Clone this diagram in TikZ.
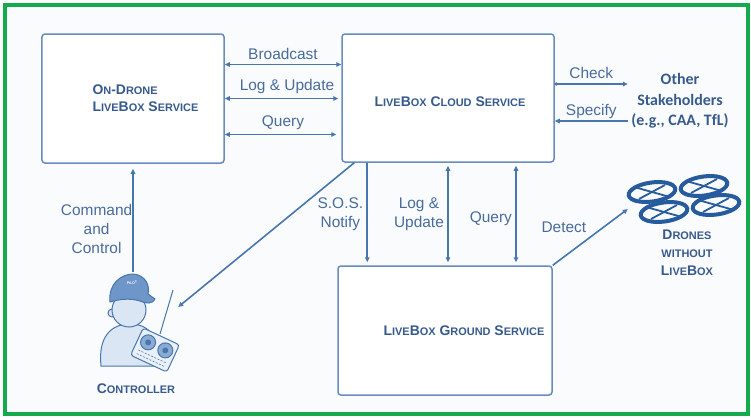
\documentclass[tikz,border=0pt]{standalone}
\usepackage{fontspec}
\setmainfont{Liberation Sans}
\newfontfamily\calib{Carlito}
\usetikzlibrary{arrows.meta,calc}

\definecolor{lnblue}{RGB}{72,118,175}
\definecolor{boxblue}{RGB}{105,140,190}
\definecolor{txtblue}{RGB}{72,108,158}
\definecolor{ttlblue}{RGB}{55,90,142}
\definecolor{rotorblue}{RGB}{38,92,158}
\definecolor{frame}{RGB}{22,170,78}
\definecolor{paper}{RGB}{250,251,253}
\definecolor{skin}{RGB}{218,230,244}
\definecolor{capblue}{RGB}{110,150,200}

% fake small caps: lower part of a word in a smaller size
\newcommand\smc[1]{{\fontsize{11}{12}\selectfont #1}}

\tikzset{
  svc/.style={draw=boxblue, line width=1.5bp, rounded corners=3bp, fill=white},
  ttl/.style={font=\bfseries\fontsize{14}{17}\selectfont, text=ttlblue},
  lbl/.style={font=\fontsize{15.5}{19}\selectfont, text=txtblue, align=center},
  link/.style={draw=lnblue, line width=1.6bp, -{Triangle[length=5bp,width=4.5bp]}},
  both/.style={link, {Triangle[length=5bp,width=4.5bp]}-{Triangle[length=5bp,width=4.5bp]}},
  rotor/.style={draw=rotorblue, line width=4bp, fill=paper},
  icon/.style={draw=lnblue, line width=1bp},
}

\begin{document}
\begin{tikzpicture}[x=1bp,y=-1bp]
\fill[paper] (0,0) rectangle (751,417);
\draw[frame, line width=4bp] (5,5) rectangle (748,414);

% the three services
\node[svc, minimum width=182bp, minimum height=129bp] (drone) at (133,98.5) {};
\node[svc, minimum width=212bp, minimum height=128bp] (cloud) at (448,98) {};
\node[svc, minimum width=214bp, minimum height=129bp] (ground) at (445,330.5) {};
\node[ttl, align=left, anchor=west] (dronet) at (89,98) {O\smc{N}-D\smc{RONE}\\L\smc{IVE}B\smc{OX} S\smc{ERVICE}};
\node[ttl] (cloudt) at ([xshift=2bp,yshift=-4bp]cloud.center) {L\smc{IVE}B\smc{OX} C\smc{LOUD} S\smc{ERVICE}};
\node[ttl] (groundt) at ([xshift=19bp]ground.center) {L\smc{IVE}B\smc{OX} G\smc{ROUND} S\smc{ERVICE}};

% outside parties
\node[font=\calib\bfseries\fontsize{16}{20.5}\selectfont, text=ttlblue, align=center] (stake) at (680,101) {Other\\Stakeholders\\(e.g., CAA, TfL)};
\node[minimum width=90bp, minimum height=70bp] (pilot) at (133,307) {};
\node[ttl] (pilott) at (136,389) {C\smc{ONTROLLER}};
\node[minimum width=114bp, minimum height=50bp] (uav) at (685,198) {};
\node[ttl, align=center, font=\bfseries\fontsize{14}{18}\selectfont] (uavt) at (687,253) {D\smc{RONES}\\\smc{WITHOUT}\\L\smc{IVE}B\smc{OX}};

% drone <-> cloud
\draw[both] ([yshift=34bp]drone.east) -- ([yshift=34bp]drone.east -| cloud.west)
  node[lbl, midway, above=1bp] {Broadcast};
\draw[both, shorten >=3bp] ([yshift=0bp]drone.east) -- ([yshift=0bp]drone.east -| cloud.west)
  node[lbl, midway, above=1bp, xshift=4bp] {Log \& Update};
\draw[both, shorten >=5bp] ([yshift=-36bp]drone.east) -- ([yshift=-36bp]drone.east -| cloud.west)
  node[lbl, midway, above=1bp] {Query};

% cloud <-> stakeholders
\draw[link, {Circle[length=3bp]}-{Triangle[length=5bp,width=4.5bp]}] ([yshift=14bp]cloud.east) -- ([yshift=14bp]cloud.east -| stake.west)
  node[lbl, midway, above=1bp] {Check};
\draw[link] ([yshift=-23bp]cloud.east -| stake.west) -- ([yshift=-23bp]cloud.east)
  node[lbl, midway, above=-2bp] {Specify};

% cloud <-> ground
\draw[link, shorten >=3bp] ([xshift=26bp]cloud.south west) -- ([xshift=26bp]cloud.south west |- ground.north)
  node[lbl, midway, left] {S.O.S.\\Notify};
\draw[both, shorten <=3bp, shorten >=3bp] (cloud.south) -- (cloud.south |- ground.north)
  node[lbl, midway, left] {Log \&\\Update};
\draw[both, shorten <=3bp, shorten >=3bp] ([xshift=68bp]cloud.south) -- ([xshift=68bp]cloud.south |- ground.north)
  node[lbl, pos=0.55, left] {Query};

% controller and drones
\draw[link] ([xshift=13bp]cloud.south west) -- (pilot.east);
\draw[link, shorten >=5bp] (pilot.north) -- (drone.south)
  node[lbl, pos=0.4, left, inner sep=0bp] {Command\\and\\Control};
\draw[link] (ground.north east) -- ([yshift=-11bp]uav.west)
  node[lbl, midway, above left] {Detect};

% pilot with remote
\draw[icon, fill=skin] (101,366) .. controls (98,338) and (110,324) .. (130,324)
  .. controls (150,324) and (160,338) .. (158,366) -- cycle;
\draw[icon, fill=skin] (112,313) circle (4);
\draw[icon, fill=skin] (129,310) circle (17);
\draw[icon, fill=capblue] (110,302) .. controls (108,283) and (122,274) .. (133,274)
  .. controls (146,275) and (150,286) .. (148,294) -- (155,299)
  .. controls (153,304) and (146,304) .. (140,301)
  .. controls (130,298) and (120,299) .. (110,302) -- cycle;
\node[text=white, font=\bfseries\fontsize{3.5}{4}\selectfont, rotate=8] at (132,283) {PILOT};
\draw[icon] (160,334) -- (173,290);
\begin{scope}[shift={(155,350)}, rotate=-25]
  \draw[icon, fill=skin!60!white, rounded corners=3bp] (-20,-15) rectangle (20,15);
  \foreach \jx in {-9.5,9.5} {
    \draw[icon, fill=capblue!80!white] (\jx,-4) circle (7.5);
    \fill[lnblue] (\jx,-4) circle (3);
  }
  \foreach \ky in {7,11}
    \draw[icon, line width=0.6bp, dash pattern=on 2bp off 1.5bp] (-15,\ky) -- (15,\ky);
\end{scope}

% drones without LiveBox
\foreach \cx/\cy in {652/192, 704/186, 664/212, 716/205} {
  \draw[rotor, rotate around={8:(\cx,\cy)}] (\cx,\cy) ellipse [x radius=23.5, y radius=9.5];
  \draw[rotorblue, line width=1.8bp] ($(\cx,\cy)+(-18,-5)$) -- ($(\cx,\cy)+(18,5)$);
  \draw[rotorblue, line width=1.8bp] ($(\cx,\cy)+(-13,7)$) -- ($(\cx,\cy)+(13,-7)$);
}
\end{tikzpicture}
\end{document}
